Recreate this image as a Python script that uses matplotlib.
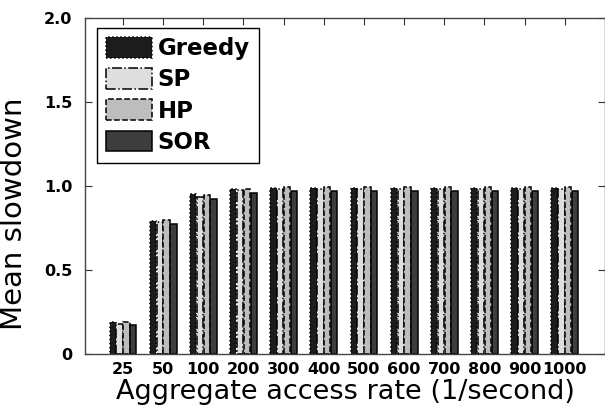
import matplotlib
matplotlib.use("Agg")
import matplotlib.pyplot as plt
import numpy as np

categories = ["25", "50", "100", "200", "300", "400", "500", "600", "700", "800", "900", "1000"]
greedy = [0.19, 0.79, 0.95, 0.985, 0.99, 0.99, 0.99, 0.99, 0.99, 0.99, 0.99, 0.99]
sp     = [0.18, 0.785, 0.935, 0.975, 0.985, 0.985, 0.985, 0.985, 0.985, 0.985, 0.985, 0.985]
hp     = [0.19, 0.80, 0.945, 0.985, 0.995, 0.995, 0.995, 0.995, 0.995, 0.995, 0.995, 0.995]
sor    = [0.17, 0.775, 0.925, 0.96, 0.97, 0.97, 0.97, 0.97, 0.97, 0.97, 0.97, 0.97]
series_names = ["Greedy", "SP", "HP", "SOR"]
yticks = [0, 0.5, 1.0, 1.5, 2.0]
yticklabels = ["0", "0.5", "1.0", "1.5", "2.0"]

plt.rcParams['font.family'] = ['DejaVu Sans']

W, H = 605, 405
fig = plt.figure(figsize=(W/100, H/100), dpi=100)
ax = fig.add_axes([85/W, 1-354/H, (605-85)/W, (354-18)/H])

x = np.arange(1, len(categories)+1)
styles = [
    dict(color="#1c1c1c", ls=":"),
    dict(color="#dedede", ls="-."),
    dict(color="#bdbdbd", ls="--"),
    dict(color="#3d3d3d", ls="-"),
]
data = [greedy, sp, hp, sor]
bw = 0.16
step = 0.17
for i, (vals, st, name) in enumerate(zip(data, styles, series_names)):
    ax.bar(x + (i-1.5)*step, vals, width=bw, facecolor=st["color"],
           edgecolor="black", linestyle=st["ls"], linewidth=1.1, label=name)

ax.set_xlim(0.054, 13.0)
ax.set_ylim(0, 2.0)
ax.set_xticks(x)
ax.set_xticklabels(categories, fontsize=11.5, fontweight="bold")
ax.set_yticks(yticks)
ax.set_yticklabels(yticklabels, fontsize=11.5, fontweight="bold")
ax.tick_params(direction="in", length=5, top=True, right=True, width=0.8, color="#333333")
ax.tick_params(axis="x", pad=6)
ax.tick_params(axis="y", pad=9)
for s in ax.spines.values():
    s.set_color("#444444")
    s.set_linewidth(1.0)

ax.set_ylabel("Mean slowdown", fontsize=21)
ax.yaxis.set_label_coords(-57/520, (354-214)/336)
ax.set_xlabel("Aggregate access rate (1/second)", fontsize=19.5)
ax.xaxis.label.set_va("baseline")
ax.xaxis.set_label_coords(0.5, -(399-354)/336)

leg = ax.legend(loc="upper left", bbox_to_anchor=(12/520, (354-28)/336),
                prop=dict(weight="bold", size=16.5), handlelength=2.0,
                handleheight=1.0, labelspacing=0.35, handletextpad=0.25,
                borderpad=0.4, borderaxespad=0, fancybox=False, framealpha=1)
leg.get_frame().set_edgecolor("black")
leg.get_frame().set_linewidth(1.0)

fig.savefig("out.png", dpi=100)
